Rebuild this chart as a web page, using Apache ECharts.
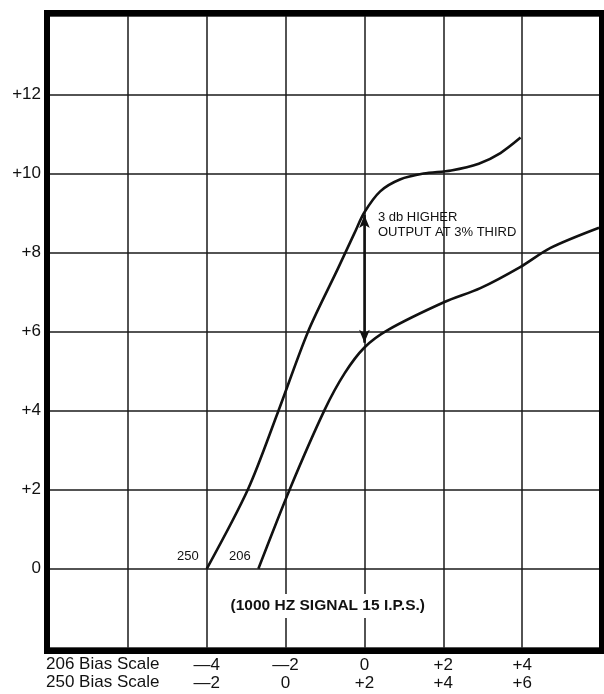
<!DOCTYPE html>
<html><head><meta charset="utf-8">
<script src="https://cdn.jsdelivr.net/npm/echarts@6/dist/echarts.min.js"></script>
<style>html,body{margin:0;padding:0;background:#fff}#c{width:604px;height:694px}</style>
</head><body><div id="c"></div>
<script>
// Y values (output, db) tick labels shown
const yTicks = [0, 2, 4, 6, 8, 10, 12];
// X tick labels: 206 bias scale and 250 bias scale (250 = 206 + 2)
const bias206Ticks = [-4, -2, 0, 2, 4];
const bias250Ticks = [-2, 0, 2, 4, 6];
// Curve for tape 250 (x in 206 bias scale units)
const tape250X = [-4.0, -2.95, -2.18, -1.43, -0.67, -0.25, 0.0, 0.4, 0.9, 1.5, 2.2, 2.9, 3.45, 3.96];
const tape250Y = [0, 2.02, 4.0, 6.0, 7.6, 8.5, 9.02, 9.55, 9.85, 10.0, 10.08, 10.25, 10.52, 10.91];
// Curve for tape 206
const tape206X = [-2.69, -1.89, -1.01, -0.50, 0.0, 0.59, 2.03, 2.94, 3.96, 4.72, 5.95];
const tape206Y = [0, 2.02, 4.02, 4.95, 5.6, 6.04, 6.75, 7.1, 7.64, 8.12, 8.63];
// Arrow between the curves at bias 0 (206 scale)
const arrowX = 0, arrowFrom = 5.72, arrowTo = 8.95;
const curveLabels = ['250', '206'];
const noteText = '3 db HIGHER\nOUTPUT AT 3% THIRD';
const signalText = '(1000 HZ SIGNAL 15 I.P.S.)';
const scaleNames = ['206 Bias Scale', '250 Bias Scale'];

const FONT = '"Liberation Sans", Arial, Helvetica, sans-serif';
const fmt = v => v > 0 ? '+' + v : (v < 0 ? '\u2014' + (-v) : '0');
const zip = (xs, ys) => xs.map((x, i) => [x, ys[i]]);

const chart = echarts.init(document.getElementById('c'), null, {renderer: 'canvas'});
chart.setOption({
  backgroundColor: '#fff',
  animation: false,
  grid: {left: 49, right: -1.5, top: 15.5, bottom: 46.2, show: false},
  xAxis: [{
    type: 'value', min: -8, max: 6, interval: 2, position: 'bottom',
    axisLine: {show: false}, axisTick: {show: false},
    splitLine: {show: true, lineStyle: {color: '#1a1a1a', width: 1.5}},
    axisLabel: {margin: 9, fontSize: 17, color: '#111', fontFamily: FONT,
      formatter: v => bias206Ticks.includes(v) ? fmt(v) : ''}
  }, {
    type: 'value', min: -6, max: 8, interval: 2, position: 'bottom', offset: 18,
    axisLine: {show: false}, axisTick: {show: false}, splitLine: {show: false},
    axisLabel: {margin: 9, fontSize: 17, color: '#111', fontFamily: FONT,
      formatter: v => bias250Ticks.includes(v) ? fmt(v) : ''}
  }],
  yAxis: {
    type: 'value', min: -2, max: 14, interval: 2,
    axisLine: {show: false}, axisTick: {show: false},
    splitLine: {show: true, lineStyle: {color: '#1a1a1a', width: 1.5}},
    axisLabel: {margin: 8, fontSize: 17, color: '#111', fontFamily: FONT,
      formatter: v => yTicks.includes(v) ? fmt(v) : ''}
  },
  graphic: [
    {type: 'rect', shape: {x: 47, y: 13, width: 555, height: 638}, z: 100,
     style: {fill: 'none', stroke: '#000', lineWidth: 6}},
    {type: 'text', left: 46, top: 656, z: 100,
     style: {text: scaleNames[0], font: '17px ' + FONT, fill: '#111'}},
    {type: 'text', left: 46, top: 674, z: 100,
     style: {text: scaleNames[1], font: '17px ' + FONT, fill: '#111'}}
  ],
  series: [{
    type: 'line', name: curveLabels[0], data: zip(tape250X, tape250Y),
    showSymbol: false, symbol: 'none', smooth: 0.3,
    lineStyle: {color: '#111', width: 2.6},
    markLine: {
      silent: true, symbol: ['arrow', 'arrow'], symbolSize: [8, 13],
      lineStyle: {color: '#111', width: 2.5, type: 'solid'},
      label: {show: false},
      data: [[{coord: [arrowX, arrowFrom]}, {coord: [arrowX, arrowTo]}]]
    },
    markPoint: {
      silent: true, symbol: 'circle', symbolSize: 1,
      itemStyle: {color: 'rgba(0,0,0,0)'},
      label: {show: true, color: '#111', fontFamily: FONT},
      data: [
        {coord: [-4.48, 0.32], label: {formatter: curveLabels[0], fontSize: 13, position: 'inside'}},
        {coord: [-3.16, 0.32], label: {formatter: curveLabels[1], fontSize: 13, position: 'inside'}},
        {coord: [0.33, 8.70], label: {formatter: noteText, fontSize: 13, lineHeight: 15, position: 'right', distance: 0, align: 'left'}},
        {coord: [-0.93, -0.94], label: {formatter: signalText, fontSize: 15.5, fontWeight: 'bold', position: 'inside', backgroundColor: '#fff', padding: [4, 6]}}
      ]
    }
  }, {
    type: 'line', name: curveLabels[1], data: zip(tape206X, tape206Y),
    showSymbol: false, symbol: 'none', smooth: 0.3,
    lineStyle: {color: '#111', width: 2.6}
  }]
});
</script>
</body></html>
